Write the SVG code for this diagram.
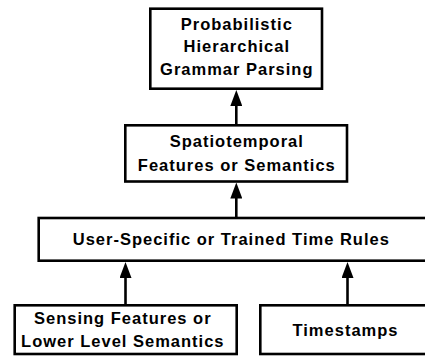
<svg xmlns="http://www.w3.org/2000/svg" width="425" height="356" viewBox="0 0 425 356">
<style>
.box{fill:#fff;stroke:#000;stroke-width:2.6}
.t{font-family:"Liberation Sans",Arial,sans-serif;font-weight:bold;font-size:16.5px;letter-spacing:1px;text-anchor:middle;fill:#000}
.c{stroke:#000;stroke-width:2.6;fill:none;marker-end:url(#ah)}
</style>
<defs>
<marker id="ah" markerUnits="userSpaceOnUse" markerWidth="16" markerHeight="12" viewBox="0 0 16 12" refX="6" refY="6" orient="auto">
<path d="M0,0 L16,6 L0,12 Z" fill="#000"/>
</marker>
</defs>
<rect width="425" height="356" fill="#fff"/>
<g id="connectors">
<line class="c" x1="236.3" y1="125.3" x2="236.3" y2="100"/>
<line class="c" x1="236.3" y1="218" x2="236.3" y2="192.5"/>
<line class="c" x1="125.5" y1="305.3" x2="125.5" y2="272"/>
<line class="c" x1="347.5" y1="305.3" x2="347.5" y2="272"/>
</g>
<g id="node-parsing">
<rect class="box" x="150.3" y="8.7" width="171.7" height="80"/>
<text class="t" x="236.8" y="30">Probabilistic</text>
<text class="t" x="236.8" y="52.3">Hierarchical</text>
<text class="t" x="236.8" y="75">Grammar Parsing</text>
</g>
<g id="node-spatiotemporal">
<rect class="box" x="125.3" y="125.3" width="221.7" height="56.2"/>
<text class="t" x="236.8" y="146.7">Spatiotemporal</text>
<text class="t" x="236.8" y="170.7">Features or Semantics</text>
</g>
<g id="node-rules">
<rect class="box" x="38.7" y="218" width="392" height="42.7"/>
<text class="t" x="231.3" y="245.3">User-Specific or Trained Time Rules</text>
</g>
<g id="node-sensing">
<rect class="box" x="14.7" y="305.3" width="222" height="48.7"/>
<text class="t" x="122.8" y="324">Sensing Features or</text>
<text class="t" x="122.8" y="346.7">Lower Level Semantics</text>
</g>
<g id="node-timestamps">
<rect class="box" x="260.3" y="305.3" width="170" height="48.7"/>
<text class="t" x="345.5" y="335.7">Timestamps</text>
</g>
</svg>
